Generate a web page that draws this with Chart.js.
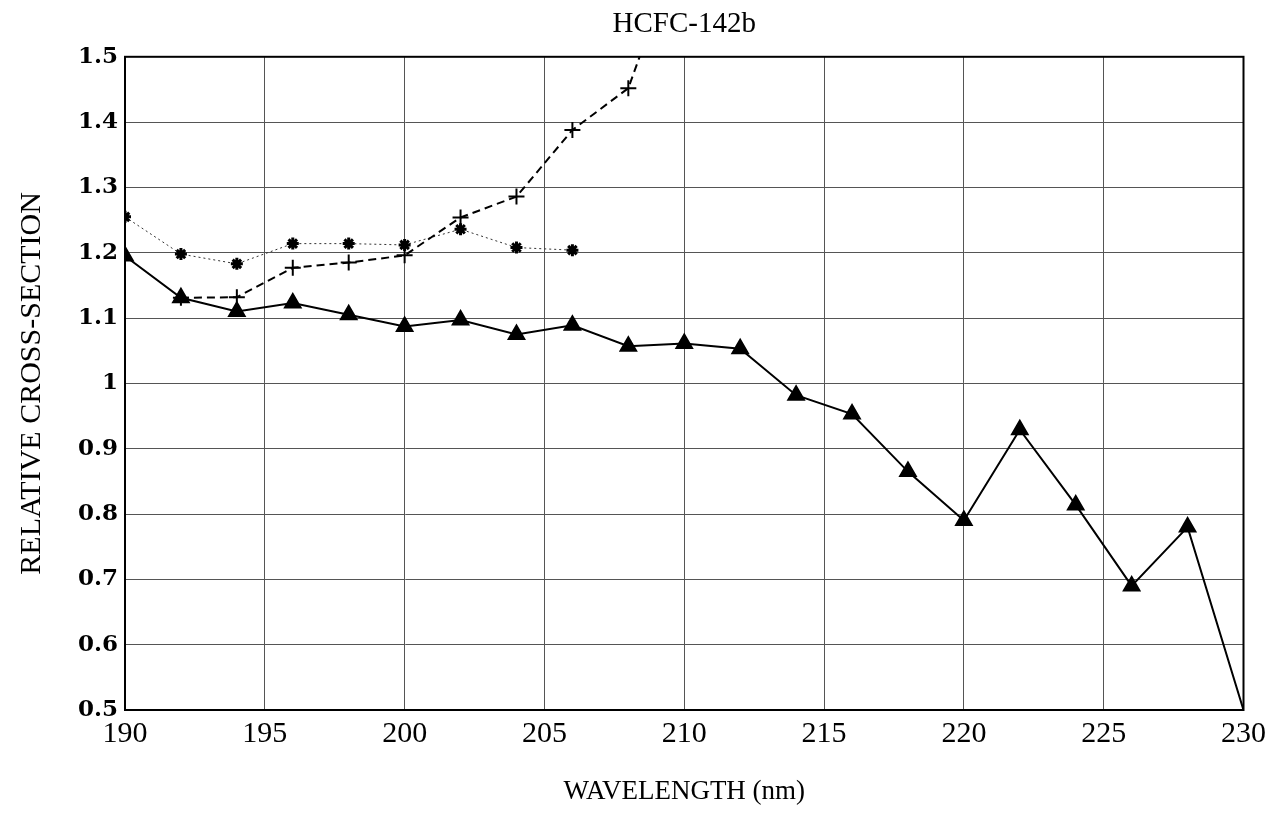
<!DOCTYPE html>
<html>
<head>
<meta charset="utf-8">
<script src="https://cdn.jsdelivr.net/npm/chart.js@4"></script>
<style>
  html, body { margin: 0; padding: 0; background: #fff; }
  #wrap { width: 1272px; height: 813px; }
</style>
</head>
<body>
<div id="wrap"><canvas id="chart" width="1272" height="813"></canvas></div>
<script>
// tick labels
const xTicks = [190, 195, 200, 205, 210, 215, 220, 225, 230];
const yTicks = [0.5, 0.6, 0.7, 0.8, 0.9, 1, 1.1, 1.2, 1.3, 1.4, 1.5];

// triangles, solid line
const triWave = [190, 192, 194, 196, 198, 200, 202, 204, 206, 208, 210, 212, 214, 216, 218, 220, 222, 224, 226, 228, 230];
const triVals = [1.195, 1.131, 1.110, 1.123, 1.105, 1.087, 1.097, 1.075, 1.089, 1.057, 1.061, 1.053, 0.982, 0.953, 0.865, 0.79, 0.929, 0.814, 0.69, 0.78, 0.5];

// plus signs, dashed line (runs off the top after 208)
const plusWave = [192, 194, 196, 198, 200, 202, 204, 206, 208, 210];
const plusVals = [1.131, 1.132, 1.177, 1.185, 1.196, 1.254, 1.286, 1.388, 1.452, 1.69];

// asterisks, dotted line
const starWave = [190, 192, 194, 196, 198, 200, 202, 204, 206];
const starVals = [1.255, 1.198, 1.183, 1.214, 1.214, 1.212, 1.236, 1.208, 1.204];

const pts = (xs, ys) => xs.map((x, i) => ({ x: x, y: ys[i] }));

// top and right sides of the box
const frame = {
  id: 'frame',
  afterDraw(chart) {
    const { ctx, chartArea: a } = chart;
    ctx.save();
    ctx.strokeStyle = '#000';
    ctx.lineWidth = 2;
    ctx.strokeRect(a.left, a.top, a.right - a.left, a.bottom - a.top);
    ctx.restore();
  }
};

const grid = { color: '#555', lineWidth: 1, borderDash: [1, 3], drawTicks: false };

new Chart(document.getElementById('chart'), {
  type: 'line',
  data: {
    datasets: [
      {
        data: pts(triWave, triVals),
        borderColor: '#000', backgroundColor: '#000', borderWidth: 2,
        pointStyle: 'triangle',
        pointRadius: triWave.map(w => w === 230 ? 0 : 9),
        tension: 0
      },
      {
        data: pts(plusWave, plusVals),
        borderColor: '#000', backgroundColor: '#000', borderWidth: 2,
        borderDash: [8, 5],
        pointStyle: 'cross', pointRadius: 8, pointBorderWidth: 2,
        tension: 0
      },
      {
        data: pts(starWave, starVals),
        borderColor: '#333', backgroundColor: '#000', borderWidth: 1,
        borderDash: [2, 3],
        pointStyle: 'star', pointRadius: 6, pointBorderWidth: 3, pointBorderColor: '#000',
        tension: 0
      }
    ]
  },
  options: {
    responsive: false,
    animation: false,
    layout: { padding: { left: 14, right: 28, top: 7, bottom: 4 } },
    plugins: {
      legend: { display: false },
      tooltip: { enabled: false },
      title: {
        display: true, text: 'HCFC-142b', color: '#000', fullSize: false,
        font: { family: 'Liberation Serif', size: 29, weight: 'normal' },
        padding: { top: 0, bottom: 15 }
      }
    },
    scales: {
      x: {
        type: 'linear', min: 190, max: 230,
        afterBuildTicks: s => { s.ticks = xTicks.map(v => ({ value: v })); },
        afterFit: s => { s.height = 99; },
        grid: grid,
        border: { color: '#000', width: 2 },
        ticks: { color: '#000', padding: 6, maxRotation: 0, font: { family: 'Liberation Serif', size: 30 } },
        title: {
          display: true, text: 'WAVELENGTH (nm)', color: '#000',
          font: { family: 'Liberation Serif', size: 27 },
          padding: { top: 0, bottom: 1 }
        }
      },
      y: {
        type: 'linear', min: 0.5, max: 1.5,
        afterBuildTicks: s => { s.ticks = yTicks.map(v => ({ value: v })); },
        afterFit: s => { s.width = 111; },
        grid: grid,
        border: { color: '#000', width: 2 },
        ticks: {
          color: '#000', padding: 7,
          font: { family: 'DejaVu Serif', size: 23, weight: 'bold' },
          callback: v => String(v)
        },
        title: {
          display: true, text: 'RELATIVE CROSS-SECTION', color: '#000',
          font: { family: 'Liberation Serif', size: 30 },
          padding: { top: 0, bottom: 0 }
        }
      }
    }
  },
  plugins: [frame]
});
</script>
</body>
</html>
